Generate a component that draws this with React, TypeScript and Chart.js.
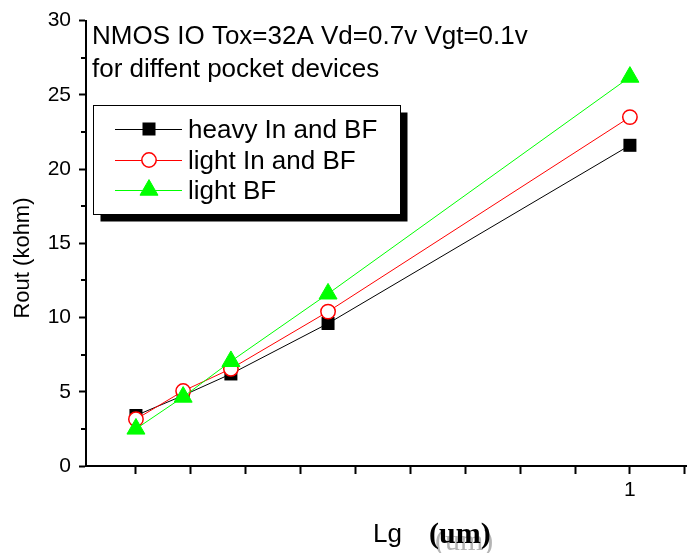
import React, { useEffect, useRef } from 'react';
import { Chart, registerables } from 'chart.js';
import { drawPoint } from 'chart.js/helpers';

Chart.register(...registerables);

// Gate length (um) and output resistance (kohm) for each pocket implant
const gateLengths = [0.1, 0.186, 0.273, 0.45, 1.0];
const heavyInBF = [3.4, 4.75, 6.2, 9.6, 21.6];
const lightInBF = [3.15, 5.05, 6.55, 10.4, 23.5];
const lightBF = [2.5, 4.65, 7.05, 11.6, 26.2];

const seriesNames = ['heavy In and BF', 'light In and BF', 'light BF'];

const xTickValues = [0.1, 0.2, 0.3, 0.4, 0.5, 0.6, 0.7, 0.8, 0.9, 1.0, 1.1];
const xLabeledTicks = [1];
const yMinorTicks = [2.5, 7.5, 12.5, 17.5, 22.5, 27.5];

const noteLines = ['NMOS IO Tox=32A Vd=0.7v Vgt=0.1v', 'for diffent pocket devices'];
const yTitle = 'Rout (kohm)';
const xTitleName = 'Lg';
const xTitleUnit = '(um)';

const SANS = '"Liberation Sans", Arial, sans-serif';
const SERIF = '"Liberation Serif", "Times New Roman", serif';

const toPoints = (ys: number[]) => gateLengths.map((x, i) => ({ x, y: ys[i] }));

const decorations = {
  id: 'decorations',
  afterDraw(chart: any) {
    const { ctx, chartArea, scales } = chart;
    const yScale = scales.y;
    ctx.save();

    // minor ticks on the left axis
    ctx.strokeStyle = '#000';
    ctx.lineWidth = 2;
    for (const v of yMinorTicks) {
      const py = Math.round(yScale.getPixelForValue(v));
      ctx.beginPath();
      ctx.moveTo(chartArea.left - 5, py);
      ctx.lineTo(chartArea.left, py);
      ctx.stroke();
    }

    // note inside the plot
    ctx.fillStyle = '#000';
    ctx.textAlign = 'left';
    ctx.textBaseline = 'alphabetic';
    ctx.font = `26px ${SANS}`;
    noteLines.forEach((t, i) => ctx.fillText(t, chartArea.left + 6, chartArea.top + 23 + i * 33));

    // legend box with drop shadow
    const bx = 93.5, by = 105.5, bw = 307, bh = 109;
    ctx.fillStyle = '#000';
    ctx.fillRect(bx + 7, by + 7, bw, bh);
    ctx.fillStyle = '#fff';
    ctx.fillRect(bx, by, bw, bh);
    ctx.strokeStyle = '#000';
    ctx.lineWidth = 1;
    ctx.strokeRect(bx, by, bw, bh);

    const rows = [129, 160, 190];
    chart.data.datasets.forEach((ds: any, i: number) => {
      const ry = rows[i];
      ctx.strokeStyle = ds.borderColor;
      ctx.lineWidth = 1;
      ctx.beginPath();
      ctx.moveTo(115, ry + 0.5);
      ctx.lineTo(182, ry + 0.5);
      ctx.stroke();
      ctx.fillStyle = ds.pointBackgroundColor;
      ctx.strokeStyle = ds.pointBorderColor;
      ctx.lineWidth = ds.pointBorderWidth;
      drawPoint(ctx, { pointStyle: ds.pointStyle, radius: ds.pointRadius, borderWidth: ds.pointBorderWidth, rotation: 0 }, 149, ry);
      ctx.fillStyle = '#000';
      ctx.font = `26px ${SANS}`;
      ctx.fillText(seriesNames[i], 188, ry + 9);
    });

    // left axis title
    ctx.save();
    ctx.translate(23, 258);
    ctx.rotate(-Math.PI / 2);
    ctx.textAlign = 'center';
    ctx.textBaseline = 'middle';
    ctx.font = `22px ${SANS}`;
    ctx.fillStyle = '#000';
    ctx.fillText(yTitle, 0, 0);
    ctx.restore();

    // bottom axis title
    ctx.textAlign = 'left';
    ctx.textBaseline = 'alphabetic';
    ctx.font = `26px ${SANS}`;
    ctx.fillStyle = '#000';
    ctx.fillText(xTitleName, 373, 542);
    ctx.font = `30px ${SERIF}`;
    ctx.fillStyle = '#b4b4b4';
    ctx.fillText(xTitleUnit, 435, 550);
    ctx.font = `bold 30px ${SERIF}`;
    ctx.fillStyle = '#000';
    ctx.fillText(xTitleUnit, 429, 543);

    ctx.restore();
  },
};

export default function App() {
  const canvasRef = useRef<HTMLCanvasElement | null>(null);

  useEffect(() => {
    const canvas = canvasRef.current;
    if (!canvas) return;
    const chart = new Chart(canvas, {
      type: 'line',
      data: {
        datasets: [
          {
            label: seriesNames[0],
            data: toPoints(heavyInBF),
            borderColor: '#000000',
            borderWidth: 1,
            pointStyle: 'rect',
            pointRadius: 9.2,
            pointBackgroundColor: '#000000',
            pointBorderColor: '#000000',
            pointBorderWidth: 0,
            order: 3,
          },
          {
            label: seriesNames[1],
            data: toPoints(lightInBF),
            borderColor: '#ff0000',
            borderWidth: 1,
            pointStyle: 'circle',
            pointRadius: 7.2,
            pointBackgroundColor: '#ffffff',
            pointBorderColor: '#ff0000',
            pointBorderWidth: 1.5,
            order: 2,
          },
          {
            label: seriesNames[2],
            data: toPoints(lightBF),
            borderColor: '#00ff00',
            borderWidth: 1,
            pointStyle: 'triangle',
            pointRadius: 10.4,
            pointBackgroundColor: '#00ff00',
            pointBorderColor: '#00ff00',
            pointBorderWidth: 1,
            order: 1,
          },
        ] as any,
      },
      options: {
        responsive: false,
        animation: false,
        events: [],
        clip: false as any,
        layout: { autoPadding: false, padding: { top: 20, left: 0, right: 0, bottom: 0 } },
        plugins: { legend: { display: false }, tooltip: { enabled: false } },
        scales: {
          x: {
            type: 'linear',
            min: 0.009,
            max: 1.104,
            afterBuildTicks: (s: any) => {
              s.ticks = xTickValues.map((value) => ({ value }));
            },
            afterFit: (s: any) => {
              s.height = 87;
              s.paddingLeft = 0;
              s.paddingRight = 0;
            },
            grid: { drawOnChartArea: false, drawTicks: true, tickLength: 8, tickWidth: 2, tickColor: '#000' },
            border: { display: true, color: '#000', width: 2 },
            ticks: {
              autoSkip: false,
              maxRotation: 0,
              padding: 4,
              color: '#000',
              font: { family: SANS, size: 21 },
              callback: (v: any) => (xLabeledTicks.some((t) => Math.abs(t - Number(v)) < 1e-9) ? String(v) : ''),
            },
          },
          y: {
            type: 'linear',
            min: 0,
            max: 30,
            afterFit: (s: any) => {
              s.width = 86;
            },
            grid: { drawOnChartArea: false, drawTicks: true, tickLength: 7, tickWidth: 2, tickColor: '#000' },
            border: { display: true, color: '#000', width: 2 },
            ticks: {
              stepSize: 5,
              padding: 8,
              color: '#000',
              font: { family: SANS, size: 21 },
            },
          },
        },
      } as any,
      plugins: [decorations],
    });
    return () => chart.destroy();
  }, []);

  return (
    <div style={{ position: 'absolute', left: 0, top: 0, width: 687, height: 553, background: '#fff' }}>
      <canvas ref={canvasRef} width={687} height={553} style={{ display: 'block' }} />
    </div>
  );
}
